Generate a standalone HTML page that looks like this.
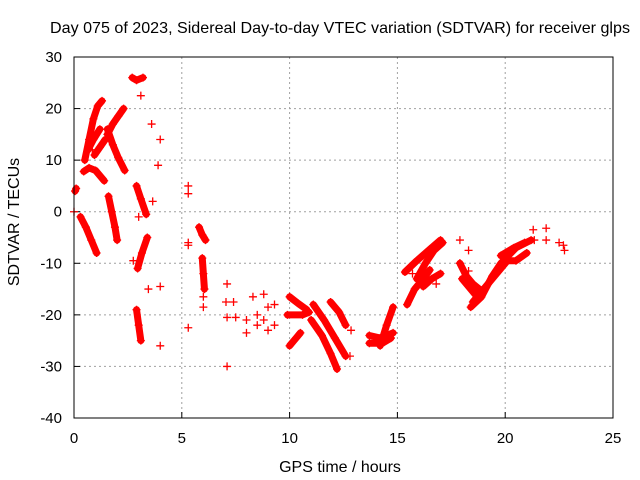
<!DOCTYPE html>
<html><head><meta charset="utf-8"><style>
html,body{margin:0;padding:0;background:#fff;}
svg{display:block;font-family:"Liberation Sans",sans-serif;}
</style></head><body>
<svg id="chart" width="640" height="480" viewBox="0 0 640 480">
<text x="340" y="33" text-anchor="middle" font-size="16" textLength="580" lengthAdjust="spacingAndGlyphs">Day 075 of 2023, Sidereal Day-to-day VTEC variation (SDTVAR) for receiver glps</text>
<text x="340" y="472" text-anchor="middle" font-size="16">GPS time / hours</text>
<text transform="translate(19,222) rotate(-90)" text-anchor="middle" font-size="16">SDTVAR / TECUs</text>
<g id="grid"></g><g id="ticks"></g><g id="marks"></g>
<rect x="74" y="57" width="539" height="361" fill="none" stroke="#000" stroke-width="1"/>
</svg>
<script>
const xTicks=[0,5,10,15,20,25];
const yTicks=[30,20,10,0,-10,-20,-30,-40];
// tracks: each a list of [hour, tecu]
const tracks=[
[[0.05,4],[0.1,4.5]],
[[0.3,-1],[0.55,-3],[0.8,-5.5],[1.05,-8]],
[[0.45,7.8],[0.7,8.5],[1.0,8],[1.4,6]],
[[0.5,10],[0.7,14],[0.9,18],[1.1,20.5],[1.3,21.5]],
[[0.65,12],[0.9,14],[1.2,16]],
[[0.95,11],[1.2,12.5],[1.45,14]],
[[1.55,15],[1.8,17],[2.05,18.5],[2.3,20]],
[[1.55,16],[1.8,13],[2.05,10.5],[2.35,8]],
[[1.6,3],[1.75,0],[1.9,-3],[2.0,-5.5]],
[[2.7,26],[2.9,25.5],[3.2,26]],
[[2.9,5],[3.1,2.5],[3.35,-0.5]],
[[2.95,-11],[3.15,-8],[3.4,-5]],
[[2.9,-19],[3.0,-22],[3.1,-25]],
[[5.8,-3],[5.95,-4.5],[6.1,-5.5]],
[[5.95,-9],[6.0,-12],[6.05,-15]],
[[10.0,-16.5],[10.4,-17.8],[10.8,-19]],
[[9.9,-20],[10.6,-20],[10.9,-19.5]],
[[10.0,-26],[10.3,-24.5],[10.5,-23.5]],
[[11.1,-18],[11.6,-21],[12.1,-24.5],[12.6,-28]],
[[11.0,-21],[11.5,-24],[11.9,-27.5],[12.2,-30.5]],
[[11.9,-17.5],[12.3,-19.5],[12.6,-22]],
[[13.7,-24],[14.2,-24.5],[14.8,-23.5]],
[[13.7,-25.5],[14.3,-25.5],[14.7,-24.5]],
[[14.2,-26],[14.5,-22],[14.8,-18.5]],
[[15.35,-11.7],[15.9,-9.5],[16.5,-7.3],[17,-5.5]],
[[15.45,-18],[15.8,-15],[16.2,-13],[16.5,-11.3]],
[[15.9,-13],[16.3,-10],[16.7,-7.5],[17.1,-6]],
[[16.2,-14.5],[16.6,-13],[17.0,-12]],
[[17.9,-10],[18.2,-12.5],[18.5,-14],[18.8,-15]],
[[18.0,-13],[18.6,-16],[19.0,-15]],
[[18.4,-18.5],[18.9,-16.5],[19.4,-12.5],[19.8,-10],[20.5,-7],[21.2,-5.5]],
[[18.5,-17.5],[19.0,-15],[19.6,-12],[20.1,-9.5]],
[[20.0,-9.5],[20.5,-9.5],[21.0,-8]],
[[19.8,-8.5],[20.4,-7],[20.9,-6]]
];
const pointsT=[0,0.85,3.1,3.6,4.0,3.9,3.65,4.0,4.0,3.45,5.3,5.3,5.3,5.3,5.3,6.0,6.0,7.1,7.05,7.1,7.1,7.4,7.5,8.0,8.0,8.3,8.5,8.5,8.8,8.8,9.0,9.0,9.3,9.3,12.85,12.8,15.7,16.8,17.9,18.3,17.9,18.3,21.3,21.35,21.9,21.9,22.5,22.7,22.75,3.0,2.75];
const pointsV=[0,12,22.5,17,14,9,2,-26,-14.5,-15,5,3.5,-6,-6.5,-22.5,-16.5,-18.5,-14,-17.5,-30,-20.5,-17.5,-20.5,-21,-23.5,-16.5,-20,-22,-16,-21,-23,-18.5,-22,-18,-23,-28,-12,-14,-5.5,-7.5,-10,-11.5,-3.5,-5.5,-3.2,-5.5,-6,-6.5,-7.5,-1,-9.5];
const X=t=>74+t*539/25;
const Y=v=>57+(30-v)*361/70;
const NS='http://www.w3.org/2000/svg';
const g=document.getElementById('grid'),tk=document.getElementById('ticks'),mk=document.getElementById('marks');
function el(n,a,p){const e=document.createElementNS(NS,n);for(const k in a)e.setAttribute(k,a[k]);p.appendChild(e);return e;}
xTicks.forEach(t=>{
 if(t>0&&t<25){const l=el('line',{x1:X(t),x2:X(t),y1:57,y2:418,stroke:'#a0a0a0','stroke-dasharray':'2,3'},g);
 
 }
 const m=el('line',{x1:X(t),x2:X(t),y1:418,y2:412,stroke:'#000'},tk);
 
 
 const s=el('text',{x:X(t),y:443,'text-anchor':'middle','font-size':'15'},tk);s.textContent=t;
 
 
});
yTicks.forEach(v=>{
 if(v<30&&v>-40){const l=el('line',{x1:74,x2:613,y1:Y(v),y2:Y(v),stroke:'#a0a0a0','stroke-dasharray':'2,3'},g);
 
 }
 const m=el('line',{x1:74,x2:80,y1:Y(v),y2:Y(v),stroke:'#000'},tk);
 
 
 const s=el('text',{x:62,y:Y(v)+5,'text-anchor':'end','font-size':'15'},tk);s.textContent=v;
 
 
});
function plus(t,v,name){
 const p=el('path',{d:`M${X(t)-4},${Y(v)}h8M${X(t)},${Y(v)-4}v8`,stroke:'#f00','stroke-width':'1.3',fill:'none'},mk);
 
 
}
tracks.forEach(tr=>{
 const pl=el('polyline',{points:tr.map(p=>X(p[0])+','+Y(p[1])).join(' '),stroke:'#f00','stroke-width':'7',fill:'none','stroke-linecap':'round','stroke-linejoin':'round'},mk);
 
 
 tr.forEach(p=>plus(p[0],p[1],'track-point'));
});
pointsT.forEach((t,i)=>plus(t,pointsV[i],'data-point'));
</script>
</body></html>
